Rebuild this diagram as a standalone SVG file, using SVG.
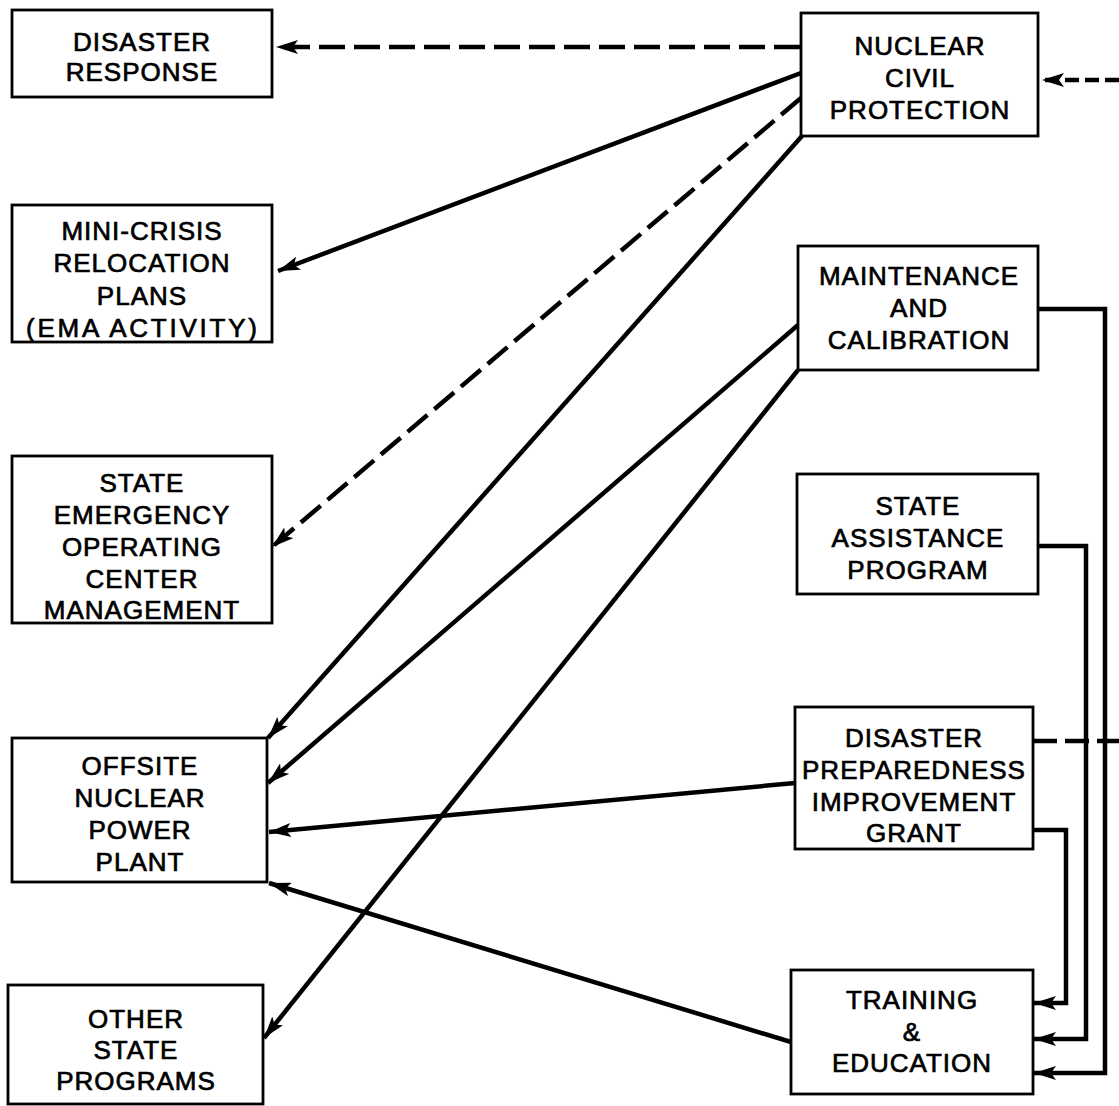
<svg xmlns="http://www.w3.org/2000/svg" width="1119" height="1106" viewBox="0 0 1119 1106">
<defs>
<style>
.box{fill:#fff;stroke:#000;stroke-width:2.8}
.t{font-family:"Liberation Sans",Arial,sans-serif;font-size:26px;letter-spacing:1px;text-anchor:middle;fill:#000;stroke:#000;stroke-width:0.7}
.c{fill:none;stroke:#000;stroke-width:4.5;stroke-linejoin:miter}
.d{stroke-dasharray:26 9}
</style>
<marker id="ah" markerUnits="userSpaceOnUse" markerWidth="24" markerHeight="14" refX="22" refY="7" orient="auto">
<path d="M0,0 L22,7 L0,14 L5,7 Z" fill="#000"/>
</marker>
</defs>
<rect width="1119" height="1106" fill="#fff"/>
<g id="connectors">
<path class="c d" d="M800,47 L276,47" marker-end="url(#ah)"/>
<path class="c" d="M1119,80 L1042,80" stroke-dasharray="14 6" marker-end="url(#ah)"/>
<path class="c" d="M801,73 L278,271" marker-end="url(#ah)"/>
<path class="c d" d="M801,98 L272,547" stroke-dasharray="30 10" marker-end="url(#ah)"/>
<path class="c" d="M802,136 L268,738" marker-end="url(#ah)"/>
<path class="c" d="M798,325 L268,783" marker-end="url(#ah)"/>
<path class="c" d="M798,370 L264,1038" marker-end="url(#ah)"/>
<path class="c" d="M795,783 L269,832" marker-end="url(#ah)"/>
<path class="c" d="M791,1042 L269,883" marker-end="url(#ah)"/>
<path class="c" d="M1033,741 L1119,741" stroke-dasharray="24 8"/>
<path class="c" d="M1038,309 L1105,309 L1105,1073 L1034,1073" marker-end="url(#ah)"/>
<path class="c" d="M1038,546 L1086,546 L1086,1039 L1034,1039" marker-end="url(#ah)"/>
<path class="c" d="M1033,830 L1066,830 L1066,1003 L1034,1003" marker-end="url(#ah)"/>
</g>
<g id="disaster-response">
<rect class="box" x="12" y="10" width="260" height="87"/>
<text class="t" x="142" y="51">DISASTER</text>
<text class="t" x="142" y="81">RESPONSE</text>
</g>
<g id="nuclear-civil-protection">
<rect class="box" x="801" y="13" width="237" height="123"/>
<text class="t" x="920" y="55">NUCLEAR</text>
<text class="t" x="920" y="87">CIVIL</text>
<text class="t" x="920" y="119">PROTECTION</text>
</g>
<g id="mini-crisis">
<rect class="box" x="12" y="205" width="260" height="137"/>
<text class="t" x="142" y="240">MINI-CRISIS</text>
<text class="t" x="142" y="272">RELOCATION</text>
<text class="t" x="142" y="305">PLANS</text>
<text class="t" x="142" y="337" textLength="232">(EMA ACTIVITY)</text>
</g>
<g id="maintenance-calibration">
<rect class="box" x="798" y="246" width="240" height="124"/>
<text class="t" x="919" y="285">MAINTENANCE</text>
<text class="t" x="919" y="317">AND</text>
<text class="t" x="919" y="349">CALIBRATION</text>
</g>
<g id="state-eoc">
<rect class="box" x="12" y="456" width="260" height="167"/>
<text class="t" x="142" y="492">STATE</text>
<text class="t" x="142" y="524">EMERGENCY</text>
<text class="t" x="142" y="556">OPERATING</text>
<text class="t" x="142" y="588">CENTER</text>
<text class="t" x="142" y="619">MANAGEMENT</text>
</g>
<g id="state-assistance">
<rect class="box" x="797" y="474" width="241" height="120"/>
<text class="t" x="918" y="515">STATE</text>
<text class="t" x="918" y="547">ASSISTANCE</text>
<text class="t" x="918" y="579">PROGRAM</text>
</g>
<g id="offsite-npp">
<rect class="box" x="12" y="738" width="255" height="144"/>
<text class="t" x="140" y="775">OFFSITE</text>
<text class="t" x="140" y="807">NUCLEAR</text>
<text class="t" x="140" y="839">POWER</text>
<text class="t" x="140" y="871">PLANT</text>
</g>
<g id="dpig">
<rect class="box" x="795" y="707" width="238" height="142"/>
<text class="t" x="914" y="747">DISASTER</text>
<text class="t" x="914" y="779">PREPAREDNESS</text>
<text class="t" x="914" y="811">IMPROVEMENT</text>
<text class="t" x="914" y="842">GRANT</text>
</g>
<g id="other-state-programs">
<rect class="box" x="8" y="985" width="255" height="119"/>
<text class="t" x="136" y="1028">OTHER</text>
<text class="t" x="136" y="1059">STATE</text>
<text class="t" x="136" y="1090">PROGRAMS</text>
</g>
<g id="training-education">
<rect class="box" x="791" y="970" width="242" height="124"/>
<text class="t" x="912" y="1009">TRAINING</text>
<text class="t" x="912" y="1041">&amp;</text>
<text class="t" x="912" y="1072">EDUCATION</text>
</g>
</svg>
